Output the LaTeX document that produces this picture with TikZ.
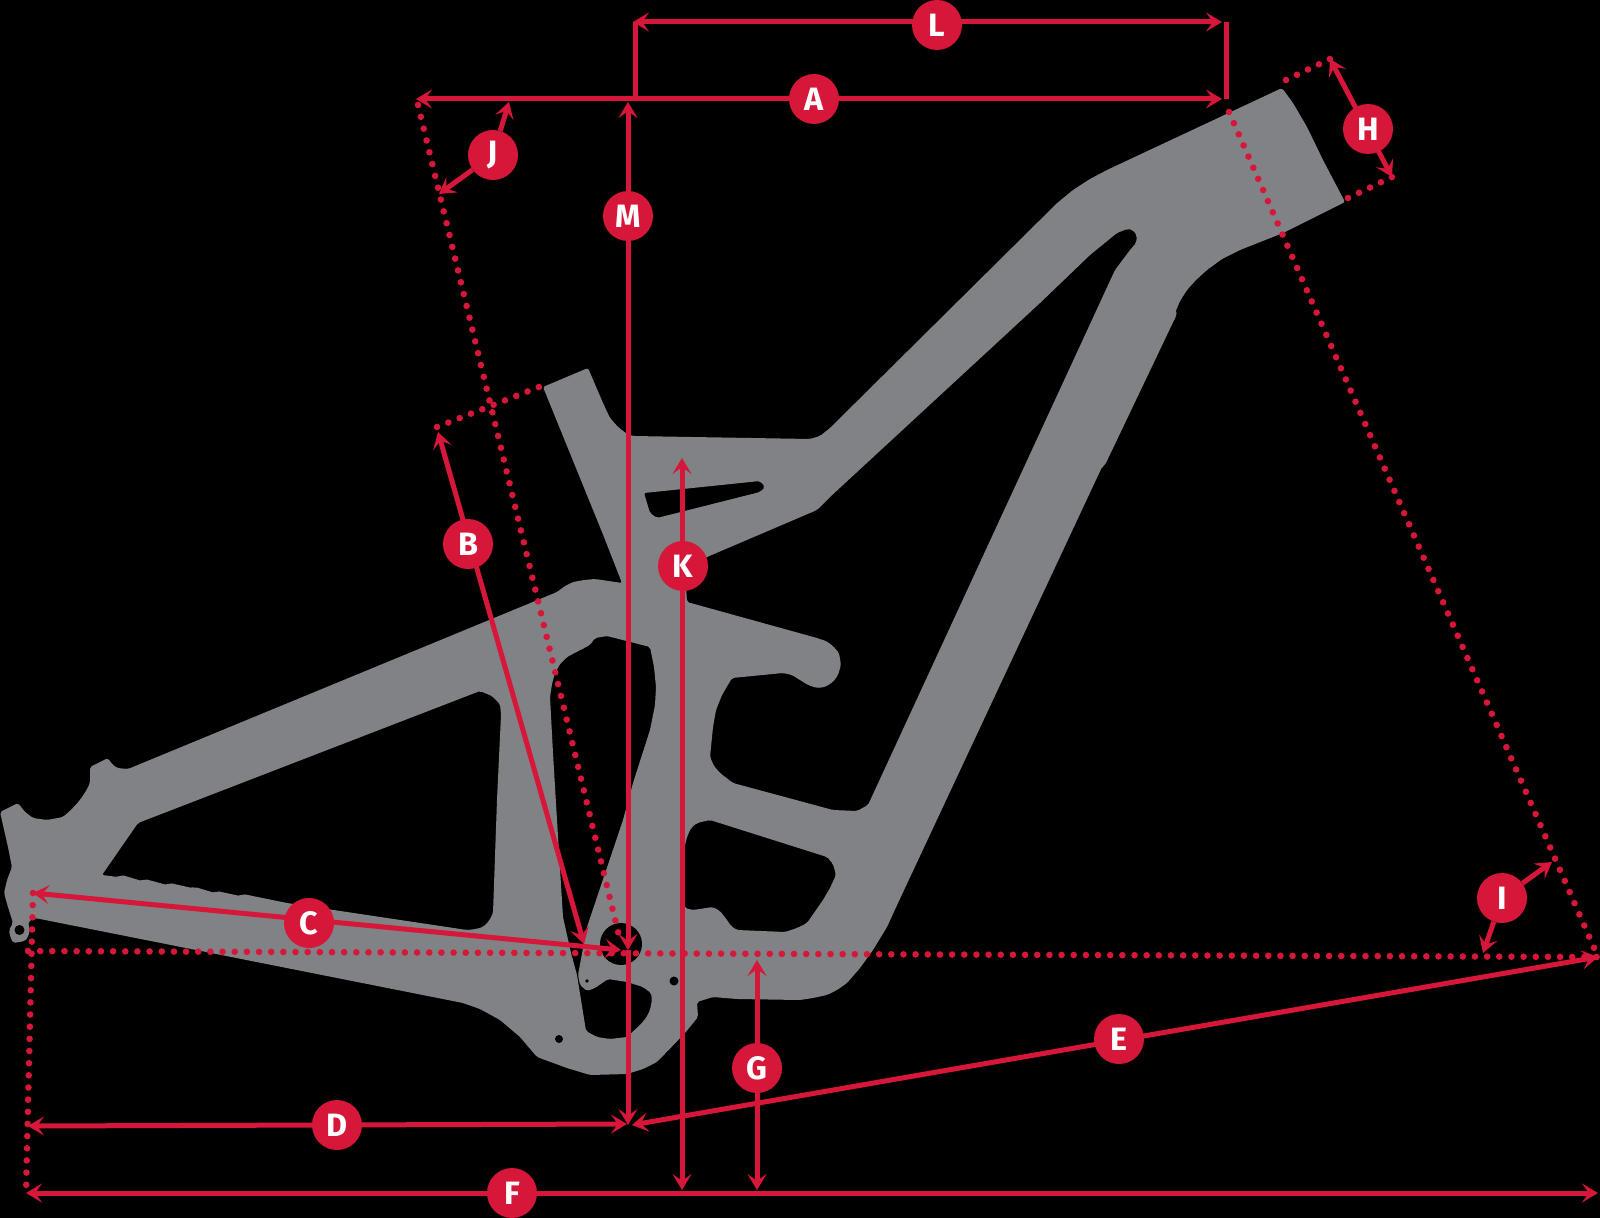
\documentclass[tikz,border=0pt]{standalone}
\usepackage{fontspec}
\setmainfont{Fira Sans}
\usetikzlibrary{arrows.meta}
\definecolor{framegrey}{HTML}{808285}
\definecolor{dimred}{HTML}{D7173A}
\pgfdeclarelayer{under}
\pgfdeclarelayer{lines}
\pgfsetlayers{under,lines,main}
\tikzset{
  x=0.05cm,y=-0.05cm,
  headtip/.tip={Stealth[length=0.8cm,width=0.95cm,inset=0.34cm]},
  frameshape/.style={fill=framegrey,even odd rule,rounded corners=0.1cm},
  dotline/.style={draw=dimred,line width=0.33cm,line cap=round,dash pattern=on 0pt off 0.608cm},
  dimline/.style={draw=dimred,line width=0.25cm,arrows={headtip-headtip}},
  dimto/.style={draw=dimred,line width=0.25cm,arrows={-headtip}},
  plainline/.style={draw=dimred,line width=0.25cm},
  badge/.style={circle,fill=dimred,minimum size=2.5cm,inner sep=0pt,text=white,
     font=\fontsize{46}{46}\selectfont\bfseries},
  hole/.style={circle,fill=black,inner sep=0pt}
}
\begin{document}
\begin{tikzpicture}
\useasboundingbox (0,0) rectangle (1600,1218);
\begin{pgfonlayer}{under}
\fill[black] (0,0) rectangle (1600,1218);
% frame silhouette with its openings
\path[frameshape]
 % outer outline
 (0,812) -- (18,803) -- (25,812) -- (33,818) -- (47,820) -- (63,817) -- (72,809) -- (80,800) -- (86,791) -- (90,783) -- (90,767)
 -- (108,758) -- (112,764) -- (117,768) -- (128,769) -- (557,592) -- (565,586) -- (573,582) -- (584,580) -- (595,579) -- (622,583)
 -- (602,532) -- (543,387) -- (588,368) -- (603,403) -- (610,418) -- (618,427) -- (627,434) -- (633,436) -- (810,439)
 -- (820,436) -- (830,428) -- (1040,220) -- (1056,204) -- (1073,190) -- (1090,179) -- (1107,170) -- (1282,88)
 -- (1293,103) -- (1307,127) -- (1323,160) -- (1345,202)
 -- (1283,233) -- (1240,250) -- (1222,259) -- (1207,270) -- (1196,280) -- (1187,290) -- (1180,301) -- (1175,313) -- (1177,314)
 -- (1105,465) -- (1102,467) -- (898,903) -- (887,927) -- (873,950) -- (860,968) -- (847,983) -- (837,990) -- (827,995) -- (813,998) -- (800,1000)
 -- (737,999) -- (713,997) -- (697,1002) -- (698,1017) -- (685,1033) -- (657,1062) -- (643,1069) -- (627,1074)
 -- (590,1075) -- (567,1068) -- (537,1057) -- (520,1037) -- (500,1020) -- (480,1009) -- (463,1003) -- (35,918)
 -- (28,922) -- (30,930) -- (28,937) -- (25,941) -- (13,943) -- (10,936) -- (9,930) -- (13,923) -- (8,907) -- (4,893) -- (7,880)
 -- (12,867) -- (8,847) -- cycle
 % rear triangle
 (138,823) -- (102,875) -- (118,877) -- (122,875) -- (142,881) -- (145,879) -- (167,885)
 -- (170,883) -- (192,888) -- (195,887) -- (215,893) -- (217,891) -- (240,896) -- (243,894)
 -- (287,903) -- (467,930) -- (476,929) -- (483,927) -- (489,921) -- (493,913) -- (497,800) -- (501,715) -- (500,704) -- (492,696) -- (480,691) -- cycle
 % shock opening and wedge
 (650,647) -- (607,636) -- (595,638) -- (590,645) -- (567,657) -- (560,664) -- (555,673) -- (552,684) -- (550,697) -- (553,753)
 -- (557,820) -- (563,917) -- (571,953) -- (577,975) -- (586,1031) -- (597,1037) -- (610,1039)
 -- (627,1037) -- (640,1025) -- (646,1018) -- (650,1010) -- (652,1000) -- (651,993) -- (643,987) -- (627,982) -- (608,979)
 -- (595,988) -- (587,991) -- (580,985) -- (578,975) -- (587,927) -- (623,820) -- (633,783)
 -- (650,730) -- (655,705) -- (656,687) -- (654,667) -- cycle
 % main opening
 (707,557) -- (685,570) -- (687,602) -- (817,638) -- (826,641) -- (833,646) -- (839,653) -- (841,665) -- (838,675) -- (833,682) -- (825,687) -- (817,688)
 -- (808,685) -- (800,680) -- (792,675) -- (783,673) -- (732,678) -- (722,695) -- (716,710) -- (713,727) -- (710,757) -- (714,766) -- (720,773) -- (733,783)
 -- (833,810) -- (857,811) -- (868,805) -- (1115,270) -- (1124,258) -- (1130,250) -- (1136,243) -- (1137,236) -- (1133,230) -- (1127,229) -- (1117,233)
 -- (1090,255) -- (1040,303) -- (830,497) -- (817,510) -- cycle
 % lower opening
 (697,823) -- (710,820) -- (827,857) -- (833,864) -- (836,875) -- (830,888) -- (823,900) -- (807,923) -- (797,928) -- (785,932) -- (737,930)
 -- (731,926) -- (727,920) -- (720,911) -- (713,907) -- (693,910) -- (685,908) -- (681,895) -- (680,883) -- (682,858) -- (687,837) -- (691,828) -- cycle
 % slot in the seat tube
 (644,493) -- (760,481) -- (765,487) -- (760,492) -- (657,518) -- (650,513) -- cycle;
% bearing holes
\node[hole,minimum size=2.1cm] (bb) at (621,944) {};
\node[hole,minimum size=0.45cm] (h1) at (674,981) {};
\node[hole,minimum size=0.4cm] (h2) at (559,1039) {};
\node[hole,minimum size=0.18cm] (h3) at (587,981) {};
\node[hole,minimum size=0.5cm] (h4) at (19.5,930) {};
\end{pgfonlayer}
% end points
\coordinate (Aa) at (416,99);   \coordinate (Ab) at (1222,99);
\coordinate (La) at (633,22);   \coordinate (Lb) at (1222,22);
\coordinate (Lc) at (635,99);   \coordinate (Ld) at (1226,99);
\coordinate (Le) at (635,22);   \coordinate (Lf) at (1226,22);
\coordinate (Ma) at (628,102);  \coordinate (Mb) at (628,950);  \coordinate (Mc) at (628,1125);
\coordinate (Ka) at (682,458);  \coordinate (Kb) at (682,1190);
\coordinate (Ga) at (757,960);  \coordinate (Gb) at (757,1190);
\coordinate (Fa) at (26,1193);  \coordinate (Fb) at (1598,1193);
\coordinate (Da) at (28,1126);  \coordinate (Db) at (627,1124);
\coordinate (Ea) at (632,1125); \coordinate (Eb) at (1598,957);
\coordinate (Ca) at (33,893);   \coordinate (Cb) at (621,950);
\coordinate (Ba) at (438,432);  \coordinate (Bb) at (584,944);
\coordinate (Ha) at (1330,59);  \coordinate (Hb) at (1392,177);
\coordinate (Ja) at (509,102);  \coordinate (Jb) at (439,194);
\coordinate (Ia) at (1552,862); \coordinate (Ib) at (1483,953);
\coordinate (Sa) at (1229,112); \coordinate (Ta) at (418,105);
\coordinate (Tb) at (621,944);  \coordinate (Pa) at (437,427);
\coordinate (Pb) at (539,387);  \coordinate (Qa) at (1286,80);
\coordinate (Qb) at (1348,198); \coordinate (Ra) at (28,951);
% badges
\node[badge] (nL) at (937,25) {L};
\node[badge] (nA) at (814,99) {A};
\node[badge] (nM) at (628,216) {M};
\node[badge] (nJ) at (493,155) {J};
\node[badge] (nH) at (1368,129) {H};
\node[badge] (nB) at (468,544) {B};
\node[badge] (nK) at (683,566) {K};
\node[badge] (nC) at (309,923) {C};
\node[badge] (nI) at (1502,898) {I};
\node[badge] (nE) at (1119,1039) {E};
\node[badge] (nG) at (757,1068) {G};
\node[badge] (nD) at (337,1125) {D};
\node[badge] (nF) at (512,1193) {F};
\begin{pgfonlayer}{lines}
% dotted construction lines
\draw[dotline] (Ra) -- (Eb);
\draw[dotline] (Ca) -- (Fa);
\draw[dotline] (Sa) -- (Eb);
\draw[dotline] (Ta) -- (Tb);
\draw[dotline] (Pa) -- (Pb);
\draw[dotline] (Qa) -- (Ha);
\draw[dotline] (Qb) -- (Hb);
% connectors
\draw[plainline] (Lc) -- (Le);
\draw[plainline] (Lf) -- (Ld);
\draw[dimline] (La) -- (Lb);
\draw[dimline] (Aa) -- (Ab);
\draw[dimline] (Ma) -- (Mb);
\draw[dimto] (Mb) -- (Mc);
\draw[dimline] (Ka) -- (Kb);
\draw[dimline] (Ga) -- (Gb);
\draw[dimline] (Fa) -- (Fb);
\draw[dimline] (Da) -- (Db);
\draw[dimline] (Ea) -- (Eb);
\draw[dimline] (Ca) -- (Cb);
\draw[dimline] (Ba) -- (Bb);
\draw[dimline] (Ha) -- (Hb);
\draw[dimto] (nJ) -- (Ja);
\draw[dimto] (nJ) -- (Jb);
\draw[dimto] (nI) -- (Ia);
\draw[dimto] (nI) -- (Ib);
\end{pgfonlayer}
\end{tikzpicture}
\end{document}
